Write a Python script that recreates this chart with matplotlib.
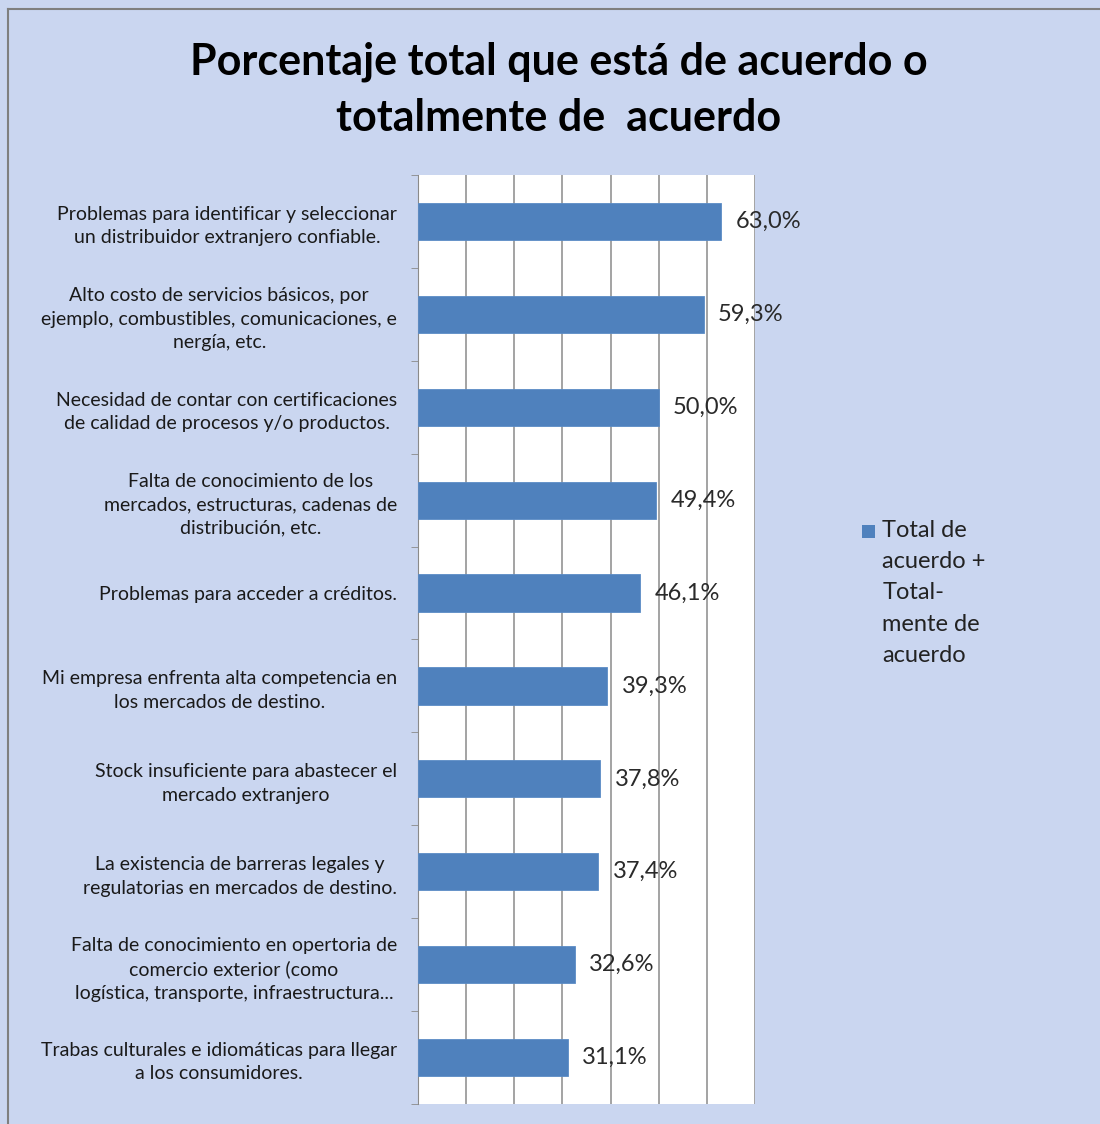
import numpy as np
import matplotlib
matplotlib.use("Agg")
import matplotlib.pyplot as plt
from matplotlib.lines import Line2D
from matplotlib.ticker import MultipleLocator

categories = [
    "Problemas para identificar y seleccionar\nun distribuidor extranjero confiable.",
    "Alto costo de servicios básicos, por\nejemplo, combustibles, comunicaciones, e\nnergía, etc.",
    "Necesidad de contar con certificaciones\nde calidad de procesos y/o productos.",
    "Falta de conocimiento de los\nmercados, estructuras, cadenas de\ndistribución, etc.",
    "Problemas para acceder a créditos.",
    "Mi empresa enfrenta alta competencia en\nlos mercados de destino.",
    "Stock insuficiente para abastecer el\nmercado extranjero",
    "La existencia de barreras legales y\nregulatorias en mercados de destino.",
    "Falta de conocimiento en opertoria de\ncomercio exterior (como\nlogística, transporte, infraestructura...",
    "Trabas culturales e idiomáticas para llegar\na los consumidores.",
]
values = [63.0, 59.3, 50.0, 49.4, 46.1, 39.3, 37.8, 37.4, 32.6, 31.1]
series_name = "Total de\nacuerdo +\nTotal-\nmente de\nacuerdo"
title = "Porcentaje total que está de acuerdo o\ntotalmente de  acuerdo"

BG = "#cad6f0"
BAR = "#4f81bd"
FONT = ["Lato", "DejaVu Sans"]

fig = plt.figure(figsize=(11, 11.24), dpi=100)
fig.patch.set_facecolor(BG)

ax = fig.add_axes([0.380, 0.0178, 0.3064, 0.8265])
ax.set_facecolor("white")

y = np.arange(len(values))
ax.barh(y, values, height=0.4, color=BAR, edgecolor="#5b8cc6", linewidth=0.6, zorder=3)
ax.set_xlim(0, 70)
ax.set_ylim(len(values) - 0.5, -0.5)
ax.xaxis.set_major_locator(MultipleLocator(10))
ax.grid(axis="x", color="#8a8a8a", linewidth=1.1, zorder=0)
ax.tick_params(axis="x", length=0, labelbottom=False)

ax.set_yticks(y)
ax.set_yticklabels(categories, ma="center", fontsize=14, color="#1a1a1a", family=FONT,
                   linespacing=1.45)
ax.tick_params(axis="y", which="major", length=0, pad=15)
ax.set_yticks(np.arange(len(values) + 1) - 0.5, minor=True)
ax.tick_params(axis="y", which="minor", length=5, color="#8a8a8a", direction="out")

for s in ["top", "right", "bottom"]:
    ax.spines[s].set_visible(False)
ax.spines["left"].set_color("#8a8a8a")

for yi, v in zip(y, values):
    ax.text(v + 3.0, yi, f"{v:.1f}%".replace(".", ","), va="center", ha="left",
            fontsize=17, color="#2a2a2a", family=FONT, zorder=4)

fig.text(0.508, 0.92, title, ha="center", va="center", fontsize=31, fontweight="bold",
         color="black", family=FONT, linespacing=1.5)

# legend drawn by hand to match the wrapped series name
fig.patches.append(plt.Rectangle((0.784, 0.5215), 0.0115, 0.0115, transform=fig.transFigure,
                                 facecolor=BAR, edgecolor="none"))
fig.text(0.802, 0.5374, series_name, ha="left", va="top", fontsize=17, color="#222222",
         family=FONT, linespacing=1.6)

# outer frame (left and top edges visible)
fig.add_artist(Line2D([0.0075, 0.0075], [0.0, 0.992], transform=fig.transFigure, color="#7f7f7f", lw=1.5))
fig.add_artist(Line2D([0.0075, 1.0], [0.992, 0.992], transform=fig.transFigure, color="#7f7f7f", lw=1.5))

fig.savefig("out.png", dpi=100, facecolor=BG)
